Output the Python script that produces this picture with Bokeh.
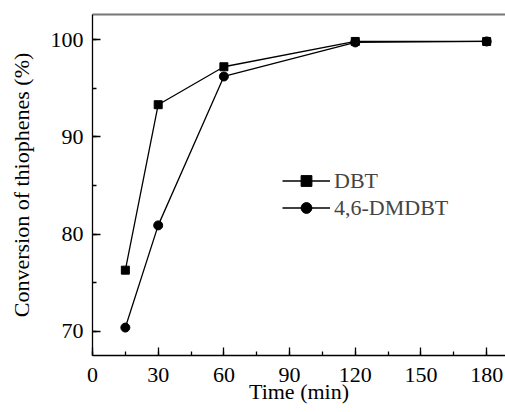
from bokeh.plotting import figure
from bokeh.models import Range1d, SingleIntervalTicker, FixedTicker, Legend, LegendItem, LinearAxis
from bokeh.embed import file_html
from bokeh.resources import INLINE

time_min = [15, 30, 60, 120, 180]
dbt = [76.3, 93.3, 97.2, 99.8, 99.8]
dmdbt = [70.4, 80.9, 96.2, 99.7, 99.8]

FONT = "Liberation Serif"

p = figure(width=505, height=406, output_backend="svg", toolbar_location=None,
           x_range=Range1d(0, 188.6), y_range=Range1d(67.53, 102.57),
           min_border_left=92, min_border_right=0, min_border_top=14, min_border_bottom=51,
           frame_width=413, frame_height=341)
p.grid.visible = False
p.outline_line_color = None
p.background_fill_color = "white"

xaxis = p.below[0]
yaxis = p.left[0]

top = LinearAxis(ticker=FixedTicker(ticks=[]), major_tick_in=0, major_tick_out=0,
                 minor_tick_in=0, minor_tick_out=0, axis_line_color="#777777",
                 axis_line_width=2)
p.add_layout(top, "above")

xaxis.ticker = SingleIntervalTicker(interval=30, num_minor_ticks=2)
yaxis.ticker = SingleIntervalTicker(interval=10, num_minor_ticks=2)
for ax in (xaxis, yaxis):
    ax.major_tick_in = 8
    ax.major_tick_out = 0
    ax.minor_tick_in = 4
    ax.minor_tick_out = 0
    ax.axis_line_color = "black"
    ax.axis_line_width = 1.3
    ax.major_tick_line_width = 1.3
    ax.minor_tick_line_width = 1.3
    ax.major_label_text_font = FONT
    ax.major_label_text_font_size = "22px"
    ax.major_label_text_color = "black"
    ax.axis_label_text_font = FONT
    ax.axis_label_text_font_size = "22px"
    ax.axis_label_text_font_style = "normal"
    ax.axis_label_text_color = "black"

xaxis.axis_label = "Time (min)"
yaxis.axis_label = "Conversion of thiophenes (%)"
xaxis.major_label_standoff = 12
yaxis.major_label_standoff = 9
xaxis.axis_label_standoff = -6
yaxis.axis_label_standoff = 14

l1 = p.line(time_min, dbt, line_color="black", line_width=1.3)
m1 = p.scatter(time_min, dbt, marker="square", size=8, fill_color="black", line_color="black")
l2 = p.line(time_min, dmdbt, line_color="black", line_width=1.3)
m2 = p.scatter(time_min, dmdbt, marker="circle", size=9, fill_color="black", line_color="black")

legend = Legend(items=[LegendItem(label="DBT", renderers=[l1, m1]),
                       LegendItem(label="4,6-DMDBT", renderers=[l2, m2])],
                location=(190, 134), padding=0, margin=0, spacing=0,
                glyph_width=48, glyph_height=27, label_height=27, label_standoff=4,
                label_text_font=FONT, label_text_font_size="22px",
                border_line_color=None, background_fill_alpha=0)
p.add_layout(legend)

open("out.html", "w").write(file_html(p, INLINE))
